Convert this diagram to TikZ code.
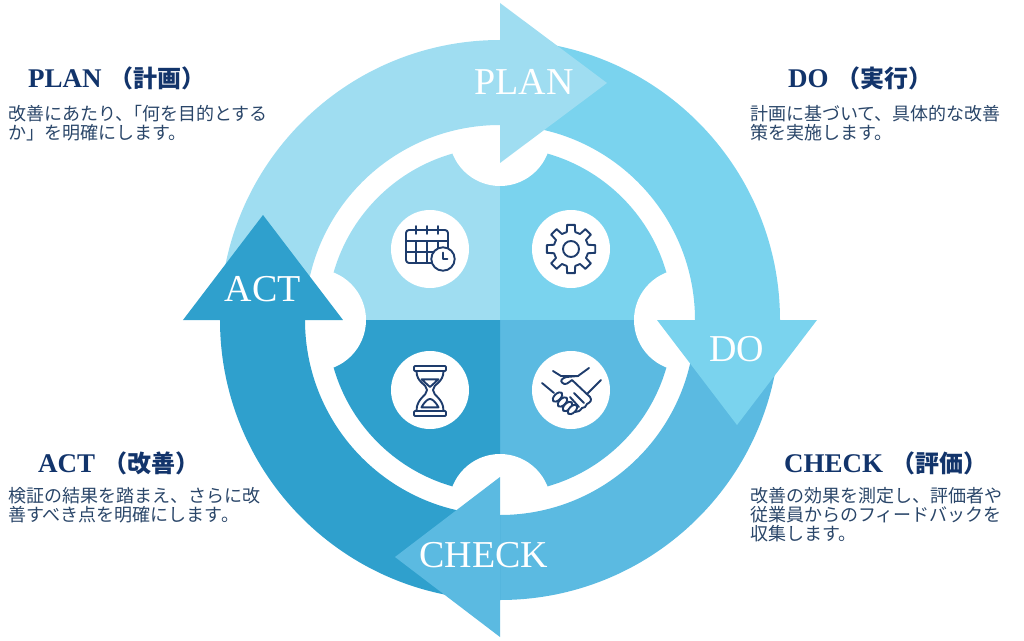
\documentclass[tikz,border=0pt]{standalone}
\usepackage{fontspec}
\setmainfont{Liberation Serif}
\newfontfamily\jpfont{Noto Sans CJK JP}
\usetikzlibrary{calc}

\definecolor{planblue}{RGB}{159,221,241}
\definecolor{doblue}{RGB}{122,211,238}
\definecolor{checkblue}{RGB}{91,186,225}
\definecolor{actblue}{RGB}{47,160,205}
\definecolor{iconnavy}{RGB}{30,60,108}
\definecolor{titlenavy}{RGB}{18,52,107}
\definecolor{bodynavy}{RGB}{42,70,105}

\def\ringarc[#1](#2:#3){\fill[#1] (#2:280) arc (#2:#3:280) -- (#3:195) arc (#3:#2:195) -- cycle;}
\def\innersector[#1](#2:#3){\fill[#1] (0, 0) -- (#2:173) arc (#2:#3:173) -- cycle;}
\def\headtitle#1#2{{\bfseries\fontsize{27}{27}\selectfont #1}\hspace{8pt}{\jpfont\bfseries\fontsize{24}{24}\selectfont #2}}

\tikzset{
	arrowlabel/.style={text=white, inner sep=0, font=\fontsize{38}{38}\selectfont},
	titletext/.style={text=titlenavy, inner sep=0, anchor=base west},
	bodytext/.style={text=bodynavy, inner sep=0, anchor=north west, align=left, font=\jpfont\fontsize{18}{19}\selectfont},
	iconline/.style={draw=iconnavy, line width=1.9, line join=round, line cap=round},
	iconback/.style={fill=white},
}

\begin{document}
\begin{tikzpicture}[x=1pt, y=1pt]
	\useasboundingbox (-500, -320) rectangle (524, 320);
	%%%%% INNER DISC %%%%%
	
	\innersector[planblue](180:90);
	\innersector[doblue](90:0);
	\innersector[checkblue](0:-90);
	\innersector[actblue](-90:-180);
	
	\fill[white] (0, 185) circle (51);
	\fill[white] (185, 0) circle (51);
	\fill[white] (0, -185) circle (51);
	\fill[white] (-185, 0) circle (51);
	
	%%%%% RING AND ARROW HEADS %%%%%
	
	\ringarc[planblue](180:90);
	\ringarc[doblue](90:0);
	\ringarc[checkblue](0:-90);
	\ringarc[actblue](-90:-180);
	
	\fill[planblue] (0, 317) -- (107, 237) -- (0, 157) -- cycle;
	\fill[doblue] (317, 0) -- (237, -105) -- (157, 0) -- cycle;
	\fill[checkblue] (0, -157) -- (-105, -237) -- (0, -317) -- cycle;
	\fill[actblue] (-317, 0) -- (-237, 105) -- (-157, 0) -- cycle;
	
	%%%%% ICON DISCS %%%%%
	
	\fill[iconback] (-70, 71) circle (39);
	\fill[iconback] (71, 71) circle (39);
	\fill[iconback] (-70, -70) circle (39);
	\fill[iconback] (71, -70) circle (39);
	
	% calendar
	\begin{scope}[shift={(-70, 71)}]
		\draw[iconline, rounded corners=3] (-24, -14) rectangle (18, 19);
		\draw[iconline] (-24, 8) -- (18, 8);
		\draw[iconline] (-24, -3) -- (18, -3);
		\foreach \x in {-14, -3, 8} {
			\draw[iconline] (\x, 23) -- (\x, 15);
			\draw[iconline] (\x, 8) -- (\x, -14);
		}
		\draw[iconline, iconback] (13, -10) circle (11.7);
		\draw[iconline] (13, -3.5) -- (13, -10) -- (17.5, -10);
	\end{scope}
	
	% gear
	\begin{scope}[shift={(71, 71)}]
		\draw[iconline] (-14:17.5) \foreach \a in {0, 45, ..., 315} {
			-- (\a-14:17.5) -- (\a-9:24.5) -- (\a+9:24.5) -- (\a+14:17.5) } -- cycle;
		\draw[iconline] (0, 0) circle (8);
	\end{scope}
	
	% hourglass
	\begin{scope}[shift={(-70, -70)}]
		\draw[iconline, rounded corners=1] (-16, 19) rectangle (16, 24);
		\draw[iconline, rounded corners=1] (-16, -26) rectangle (16, -21);
		\draw[iconline] (-13.5, 19) .. controls (-13.5, 7) and (-3, 6) .. (-3, 0)
			.. controls (-3, -6) and (-13.5, -8) .. (-13.5, -21);
		\draw[iconline] (13.5, 19) .. controls (13.5, 7) and (3, 6) .. (3, 0)
			.. controls (3, -6) and (13.5, -8) .. (13.5, -21);
		\draw[iconline] (-8.5, 10.7) -- (8.5, 10.7) -- (0, 3) -- cycle;
		\draw[iconline] (-8.5, -17.3) .. controls (-5, -11) and (-2, -9) .. (0, -9)
			.. controls (2, -9) and (5, -11) .. (8.5, -17.3) -- cycle;
	\end{scope}
	
	% handshake
	\begin{scope}[shift={(71, -70)}]
		\draw[iconline] (-29, 7) -- (-17, -3);
		\draw[iconline] (30, 10) -- (16, -4);
		\draw[iconline] (-18, 19) -- (-10, 14) -- (7, 14) -- (18, 22);
		\draw[iconline] (7, 14) -- (-4.5, 13) .. controls (-9, 12) and (-11, 9) .. (-9, 7.5)
			.. controls (-6, 4) and (-3, 7) .. (1, 10)
			-- (19, -7) .. controls (21, -10) and (20, -12) .. (16, -14)
			.. controls (15, -17) and (13, -18) .. (11, -18) .. controls (9, -21) and (7, -22) .. (4, -22);
		\draw[iconline] (3, -3) -- (13, -13);
		\draw[iconline] (-1, -7) -- (8, -17);
		\foreach \x/\y in {-13.5/-7, -8.5/-12, -3.5/-16.5, 1.5/-19.5} {
			\draw[iconline, iconback, rotate around={45:(\x, \y)}] (\x, \y) ellipse (6 and 3.2);
		}
	\end{scope}
	
	%%%%% ARROW LABELS %%%%%
	
	\node[arrowlabel] (plan) at (24, 238) {PLAN};
	\node[arrowlabel] (do) at (237, -29) {DO};
	\node[arrowlabel] (check) at (-16, -235) {CHECK};
	\node[arrowlabel] (act) at (-237, 31) {ACT};
	
	%%%%% TEXT BLOCKS %%%%%
	
	\node[titletext] (plantitle) at (-472, 232) {\headtitle{PLAN}{（計画）}};
	\node[bodytext] (planbody) at (-492, 215) {改善にあたり、\kern-.5em「何を目的とする\\か」を明確にします。};
	
	\node[titletext] (dotitle) at (288, 232) {\headtitle{DO}{（実行）}};
	\node[bodytext] (dobody) at (250, 215) {計画に基づいて、具体的な改善\\策を実施します。};
	
	\node[titletext] (acttitle) at (-462, -152) {\headtitle{ACT}{（改善）}};
	\node[bodytext] (actbody) at (-492, -167) {検証の結果を踏まえ、さらに改\\善すべき点を明確にします。};
	
	\node[titletext] (checktitle) at (284, -152) {\headtitle{CHECK}{（評価）}};
	\node[bodytext] (checkbody) at (250, -167) {改善の効果を測定し、評価者や\\従業員からのフィードバックを\\収集します。};
\end{tikzpicture}
\end{document}
